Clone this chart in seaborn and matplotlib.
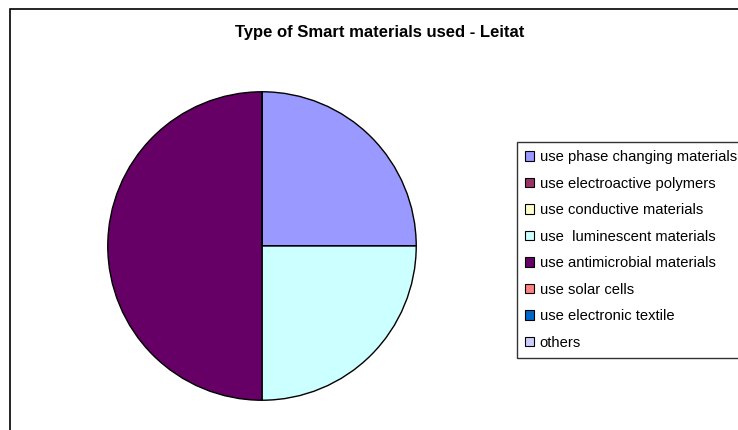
import matplotlib.pyplot as plt
import matplotlib.patches as mpatches
import seaborn as sns

categorias = ["use phase changing materials", "use electroactive polymers",
              "use conductive materials", "use  luminescent materials",
              "use antimicrobial materials", "use solar cells",
              "use electronic textile", "others"]
valores = [25, 0, 0, 25, 50, 0, 0, 0]
cores = ["#9999FF", "#993366", "#FFFFCC", "#CCFFFF",
         "#660066", "#FF8080", "#0066CC", "#CCCCFF"]

sns.set_style("white")
plt.rcParams['font.family'] = ['Liberation Sans', 'DejaVu Sans']
plt.rcParams['text.color'] = 'black'

fig = plt.figure(figsize=(7.38, 4.30), dpi=100)

# moldura do grafico (cortada a direita e embaixo)
fig.patches.append(mpatches.Rectangle((10 / 738, -0.1), 1.2, 1 - 9 / 430 + 0.1,
                                      transform=fig.transFigure, fill=False,
                                      edgecolor="black", linewidth=1.2))

ax = fig.add_axes([(262 - 155) / 738, (184 - 155) / 430, 310 / 738, 310 / 430])
wedges, _ = ax.pie(valores, colors=sns.color_palette(cores), startangle=90,
                   counterclock=False,
                   wedgeprops={"edgecolor": "black", "linewidth": 1})
ax.set_xlim(-1.005, 1.005)
ax.set_ylim(-1.005, 1.005)
ax.set_aspect("equal")

fig.text(380 / 738, 1 - 32 / 430, "Type of Smart materials used - Leitat",
         ha="center", va="center", fontsize=12, fontweight="bold", color="black")

handles = [mpatches.Patch(facecolor=c, edgecolor="black", linewidth=0.8) for c in cores]
leg = fig.legend(handles, categorias, loc="upper left",
                 bbox_to_anchor=(517 / 738, 1 - 142 / 430), fontsize=10.6,
                 frameon=True, fancybox=False, edgecolor="black",
                 handlelength=0.6, handleheight=0.6, handletextpad=0.4,
                 labelspacing=0.85, borderpad=0.55, borderaxespad=0)
leg.get_frame().set_linewidth(1)
for t in leg.get_texts():
    t.set_color("black")

fig.savefig("out.png", dpi=100)
